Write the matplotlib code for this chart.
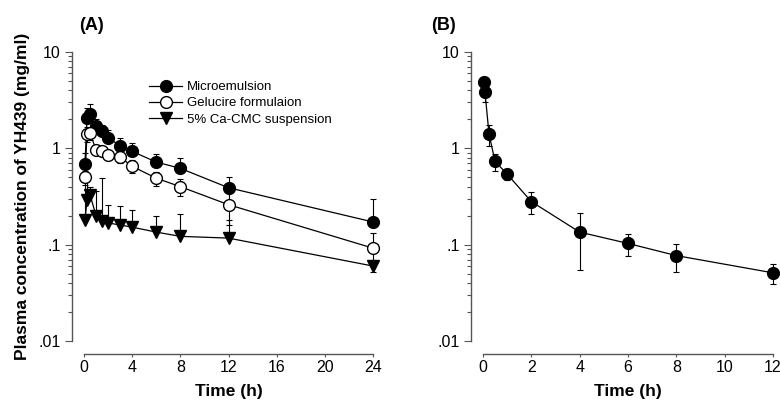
import matplotlib
matplotlib.use('Agg')
import matplotlib.pyplot as plt
import numpy as np
from matplotlib.ticker import LogLocator, NullFormatter, FixedFormatter, FixedLocator

plt.rcParams['font.family'] = ['Liberation Sans', 'DejaVu Sans']

## (A) 経口投与データ
time_a = [0.083, 0.25, 0.5, 1, 1.5, 2, 3, 4, 6, 8, 12, 24]

micro = [0.69, 2.05, 2.25, 1.70, 1.53, 1.28, 1.07, 0.93, 0.72, 0.62, 0.39, 0.172]
micro_top = [0.90, 2.60, 2.90, 2.00, 1.75, 1.55, 1.28, 1.13, 0.87, 0.79, 0.51, 0.30]

gel = [0.50, 1.42, 1.43, 0.97, 0.93, 0.85, 0.81, 0.65, 0.49, 0.40, 0.26, 0.092]
gel_err = [0.08, 0.25, 0.20, 0.10, 0.10, 0.08, 0.10, 0.10, 0.08, 0.08, 0.10, 0.04]

cmc = [0.18, 0.29, 0.33, 0.20, 0.176, 0.168, 0.16, 0.152, 0.135, 0.122, 0.117, 0.06]
cmc_top = [0.45, 0.52, 0.40, 0.36, 0.49, 0.26, 0.25, 0.23, 0.20, 0.21, 0.18, 0.07]

## (B) 静注データ
time_b = [0.033, 0.083, 0.25, 0.5, 1, 2, 4, 6, 8, 12]
iv = [4.9, 3.8, 1.40, 0.73, 0.54, 0.28, 0.135, 0.103, 0.077, 0.051]
iv_err = [0.6, 0.75, 0.33, 0.15, 0.07, 0.07, 0.08, 0.026, 0.025, 0.012]

y_ticks = [0.01, 0.1, 1, 10]
y_labels = ['.01', '.1', '1', '10']

fig = plt.figure(figsize=(7.8, 4), dpi=100)
ax_a = fig.add_axes([84 / 780, 59 / 400, 289 / 780, 289 / 400])
ax_b = fig.add_axes([483 / 780, 59 / 400, 290 / 780, 289 / 400])

ms = 8.5
lw = 0.9
ekw = dict(ecolor='black', elinewidth=0.8, capsize=2.5, capthick=0.8)


def noclip(container):
    #端の点のエラーバーが切れないように
    for art in container.lines[1] + container.lines[2]:
        art.set_clip_on(False)


def style_axes(ax, xmax, xstep):
    ax.set_yscale('log')
    ax.set_ylim(0.01, 10)
    ax.set_xlim(0, xmax)
    ax.set_xticks(np.arange(0, xmax + 1, xstep))
    ax.yaxis.set_major_locator(FixedLocator(y_ticks))
    ax.yaxis.set_major_formatter(FixedFormatter(y_labels))
    ax.yaxis.set_minor_locator(LogLocator(base=10, subs=np.arange(2, 10)))
    ax.yaxis.set_minor_formatter(NullFormatter())
    for s in ['top', 'right']:
        ax.spines[s].set_visible(False)
    for s in ['left', 'bottom']:
        ax.spines[s].set_position(('outward', 9))
        ax.spines[s].set_color('#555555')
        ax.spines[s].set_linewidth(1.0)
    ax.tick_params(axis='y', which='major', length=5, width=0.8, color='#555555',
                   labelsize=11.5, pad=3)
    ax.tick_params(axis='y', which='minor', length=3, width=0.8, color='#555555')
    ax.tick_params(axis='x', which='major', length=2.5, width=0.8, color='#555555',
                   labelsize=11.5, pad=2)
    ax.set_xlabel('Time (h)', fontsize=12.5, fontweight='bold', labelpad=7)


## (A)
m_err = np.array(micro_top) - np.array(micro)
c_err = np.array(cmc_top) - np.array(cmc)

noclip(ax_a.errorbar(time_a, gel, yerr=gel_err, fmt='none', **ekw, zorder=2))
noclip(ax_a.errorbar(time_a, micro, yerr=[np.zeros_like(m_err), m_err], fmt='none', **ekw, zorder=2))
noclip(ax_a.errorbar(time_a, cmc, yerr=[np.zeros_like(c_err), c_err], fmt='none', **ekw, zorder=2))

ax_a.plot(time_a, micro, '-o', color='black', mfc='black', mec='black', ms=ms, lw=lw,
          label='Microemulsion', zorder=4, clip_on=False)
ax_a.plot(time_a, gel, '-o', color='black', mfc='white', mec='black', ms=ms, lw=lw,
          label='Gelucire formulaion', zorder=4, clip_on=False)
ax_a.plot(time_a, cmc, '-v', color='black', mfc='black', mec='black', ms=ms + 0.5, lw=lw,
          label='5% Ca-CMC suspension', zorder=3, clip_on=False)

style_axes(ax_a, 24, 4)
ax_a.set_ylabel('Plasma concentration of YH439 (mg/ml)', fontsize=12.5,
                fontweight='bold', labelpad=6)

ax_a.legend(loc='upper left', bbox_to_anchor=(0.225, 0.90), frameon=False,
            fontsize=9.5, handlelength=2.5, handletextpad=0.35, labelspacing=0.3,
            borderpad=0, borderaxespad=0)

## (B)
noclip(ax_b.errorbar(time_b, iv, yerr=iv_err, fmt='none', **ekw, zorder=2))
ax_b.plot(time_b, iv, '-o', color='black', mfc='black', mec='black', ms=ms, lw=lw,
          zorder=4, clip_on=False)
style_axes(ax_b, 12, 2)

#パネルのラベル
fig.text(92 / 780, 1 - 25 / 400, '(A)', fontsize=13, fontweight='bold', ha='center', va='center')
fig.text(443 / 780, 1 - 25 / 400, '(B)', fontsize=13, fontweight='bold', ha='center', va='center')

fig.savefig('out.png', dpi=100)
